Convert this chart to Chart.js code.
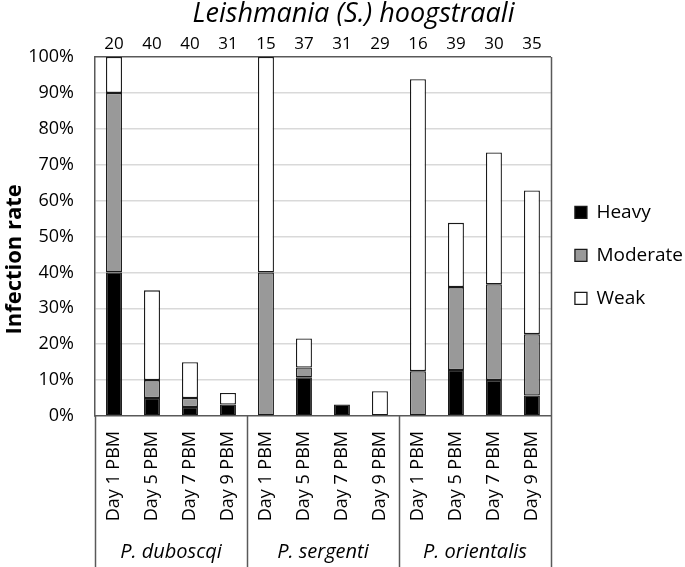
<!DOCTYPE html>
<html>
<head>
<meta charset="utf-8">
<script src="https://cdn.jsdelivr.net/npm/chart.js@4.4.1/dist/chart.umd.min.js"></script>
<style>
  html, body { margin: 0; padding: 0; background: #fff; }
</style>
</head>
<body>
<canvas id="chart" width="685" height="567"></canvas>
<script>
// Data (percent of flies infected)
const dayLabels = [
    'Day 1 PBM', 'Day 5 PBM', 'Day 7 PBM', 'Day 9 PBM',
    'Day 1 PBM', 'Day 5 PBM', 'Day 7 PBM', 'Day 9 PBM',
    'Day 1 PBM', 'Day 5 PBM', 'Day 7 PBM', 'Day 9 PBM'
];
const speciesLabels = ['P. duboscqi', 'P. sergenti', 'P. orientalis'];
const sampleSizes = ['20', '40', '40', '31', '15', '37', '31', '29', '16', '39', '30', '35'];

const heavy    = [40, 5, 2.5, 3.2, 0, 10.8, 3.2, 0, 0, 12.8, 10, 5.7];
const moderate = [50, 5, 2.5, 0, 40, 2.7, 0, 0, 12.5, 23.1, 26.7, 17.1];
const weak     = [10, 25, 10, 3.2, 60, 8.1, 0, 6.9, 81.3, 17.9, 36.7, 40];

const axisLine = '#595959';
const barEdge = '#1a1a1a';

Chart.defaults.font.family = "'Open Sans', sans-serif";
Chart.defaults.color = '#000';

// Right frame line, group separators and species names under the day labels
const speciesGroups = {
    id: 'speciesGroups',
    afterDraw(chart) {
        const { ctx, chartArea } = chart;
        const x = chart.scales.x;
        const perGroup = dayLabels.length / speciesLabels.length;
        const edge = (i) => {
            if (i <= 0) return chartArea.left;
            if (i >= dayLabels.length) return chartArea.right;
            return (x.getPixelForValue(i - 1) + x.getPixelForValue(i)) / 2;
        };
        ctx.save();
        ctx.strokeStyle = axisLine;
        ctx.lineWidth = 1.5;
        for (let g = 0; g <= speciesLabels.length; g++) {
            const px = Math.round(edge(g * perGroup)) + 0.5;
            const top = g === speciesLabels.length ? chartArea.top : chartArea.bottom;
            ctx.beginPath();
            ctx.moveTo(px, top);
            ctx.lineTo(px, chart.height);
            ctx.stroke();
        }
        ctx.fillStyle = '#000';
        ctx.font = "italic 20px 'Open Sans', sans-serif";
        ctx.textAlign = 'center';
        ctx.textBaseline = 'middle';
        speciesLabels.forEach((name, g) => {
            const cx = (edge(g * perGroup) + edge((g + 1) * perGroup)) / 2;
            ctx.fillText(name, cx, 552);
        });
        ctx.restore();
    }
};

const ctx = document.getElementById('chart').getContext('2d');

new Chart(ctx, {
    type: 'bar',
    data: {
        labels: dayLabels,
        datasets: [
            { label: 'Heavy', data: heavy, backgroundColor: '#000000' },
            { label: 'Moderate', data: moderate, backgroundColor: '#999999' },
            { label: 'Weak', data: weak, backgroundColor: '#ffffff' }
        ].map(ds => Object.assign(ds, {
            borderColor: barEdge,
            borderWidth: 1.3,
            borderSkipped: false,
            barPercentage: 0.42,
            categoryPercentage: 1
        }))
    },
    options: {
        responsive: false,
        animation: false,
        layout: { padding: { right: -8 } },
        plugins: {
            title: {
                display: true,
                text: '  Leishmania (S.) hoogstraali',
                color: '#000',
                font: { size: 27, style: 'italic', weight: 'normal', lineHeight: 1.05 },
                padding: { top: 0, bottom: 2 }
            },
            legend: {
                position: 'right',
                align: 'start',
                title: {
                    display: true,
                    text: ' ',
                    font: { size: 19, lineHeight: 1.2 },
                    padding: { top: 0, bottom: 156 }
                },
                labels: {
                    boxWidth: 12,
                    boxHeight: 12,
                    padding: 24,
                    color: '#000',
                    font: { size: 19 }
                }
            },
            tooltip: { enabled: false }
        },
        scales: {
            x: {
                stacked: true,
                grid: { display: false, drawTicks: false },
                border: { display: true, color: axisLine, width: 1.5 },
                ticks: {
                    autoSkip: false,
                    minRotation: 90,
                    maxRotation: 90,
                    padding: 15,
                    font: { size: 18 }
                },
                afterFit: (scale) => { scale.height = 151; }
            },
            x2: {
                type: 'category',
                position: 'top',
                labels: sampleSizes,
                offset: true,
                grid: { display: false, drawTicks: false },
                border: { display: true, color: axisLine, width: 1.5 },
                ticks: { padding: 3, font: { size: 17 } },
                afterFit: (scale) => { scale.height = 57 - 30.35; }
            },
            y: {
                stacked: true,
                min: 0,
                max: 100,
                grid: {
                    drawTicks: false,
                    color: (c) => (c.tick && (c.tick.value === 0 || c.tick.value === 100)) ? 'rgba(0,0,0,0)' : '#d9d9d9',
                    lineWidth: 1.5
                },
                border: { display: true, color: axisLine, width: 1.5 },
                ticks: {
                    stepSize: 10,
                    padding: 21,
                    font: { size: 18 },
                    callback: (v) => v + '%'
                },
                title: {
                    display: true,
                    text: 'Infection rate        ',
                    color: '#000',
                    font: { size: 22, weight: 'bold' },
                    padding: { top: 2, bottom: 0 }
                },
                afterFit: (scale) => { scale.width = 95; }
            }
        }
    },
    plugins: [speciesGroups]
});
</script>
</body>
</html>
